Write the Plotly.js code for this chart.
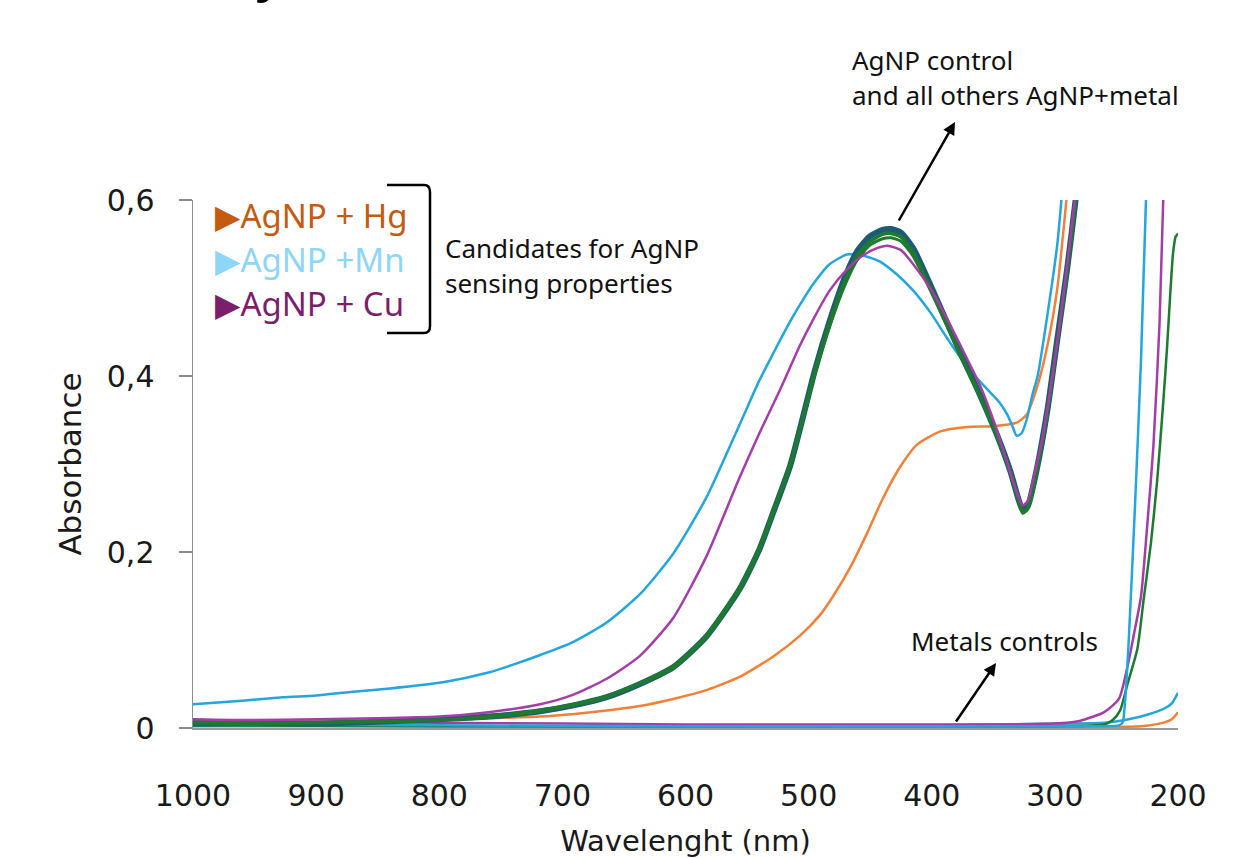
<!DOCTYPE html>
<html>
<head>
<meta charset="utf-8">
<script src="https://cdn.plot.ly/plotly-3.0.1.min.js"></script>
<style>html,body{margin:0;padding:0;background:#fff;}#chart{width:1247px;height:858px;}</style>
</head>
<body>
<div id="chart"></div>
<script>
// ---- Data ----
// AgNP control and the other AgNP+metal samples (thick green bundle)
const wlBundle = [1000, 950, 900, 850, 800, 760, 718, 690, 664, 637, 610, 583, 556, 540, 529, 515, 507, 495, 483, 470, 460, 450, 440, 433, 425, 415, 401, 388, 375, 361, 347, 336, 330, 326, 322, 315, 306, 298, 290, 283, 278];
const absAgnpControl = [0.005, 0.006, 0.005, 0.007, 0.010, 0.013, 0.019, 0.026, 0.035, 0.050, 0.069, 0.104, 0.158, 0.203, 0.244, 0.298, 0.340, 0.406, 0.462, 0.514, 0.543, 0.559, 0.566, 0.567, 0.563, 0.545, 0.503, 0.462, 0.421, 0.379, 0.333, 0.291, 0.262, 0.247, 0.252, 0.292, 0.362, 0.442, 0.522, 0.602, 0.662];
const absAgnpOther1 = [0.006, 0.005, 0.006, 0.007, 0.009, 0.013, 0.020, 0.027, 0.036, 0.051, 0.070, 0.105, 0.160, 0.205, 0.245, 0.300, 0.340, 0.405, 0.460, 0.510, 0.538, 0.553, 0.561, 0.562, 0.558, 0.540, 0.500, 0.460, 0.420, 0.378, 0.332, 0.290, 0.262, 0.245, 0.250, 0.290, 0.360, 0.440, 0.520, 0.600, 0.660];
const absAgnpOther2 = [0.007, 0.006, 0.006, 0.008, 0.009, 0.012, 0.019, 0.026, 0.035, 0.050, 0.068, 0.103, 0.157, 0.202, 0.243, 0.297, 0.338, 0.402, 0.456, 0.505, 0.533, 0.549, 0.556, 0.557, 0.553, 0.536, 0.497, 0.458, 0.418, 0.377, 0.331, 0.289, 0.261, 0.244, 0.249, 0.289, 0.358, 0.438, 0.518, 0.598, 0.658];

// AgNP + Mn (blue)
const wlMn = [1000, 960, 927, 900, 872, 840, 797, 760, 740, 718, 691, 664, 637, 610, 583, 556, 540, 529, 515, 507, 496, 483, 469, 456, 442, 428, 415, 401, 388, 371, 355, 345, 339, 335, 331, 327, 323, 318, 314, 306, 298, 294, 290];
const absMn = [0.027, 0.031, 0.035, 0.037, 0.041, 0.045, 0.052, 0.063, 0.072, 0.083, 0.098, 0.120, 0.152, 0.198, 0.262, 0.345, 0.395, 0.425, 0.462, 0.481, 0.505, 0.527, 0.538, 0.537, 0.530, 0.515, 0.497, 0.472, 0.444, 0.410, 0.385, 0.370, 0.357, 0.345, 0.332, 0.335, 0.350, 0.380, 0.400, 0.470, 0.550, 0.610, 0.660];

// AgNP + Cu (purple)
const wlCu = [1000, 950, 900, 850, 800, 760, 718, 691, 664, 637, 610, 583, 556, 540, 523, 507, 496, 483, 469, 456, 445, 436, 425, 415, 400, 388, 375, 361, 350, 339, 330, 326, 322, 318, 310, 302, 295, 288, 283, 279];
const absCu = [0.010, 0.009, 0.010, 0.011, 0.013, 0.018, 0.027, 0.038, 0.056, 0.082, 0.125, 0.195, 0.285, 0.335, 0.385, 0.435, 0.465, 0.497, 0.521, 0.537, 0.545, 0.548, 0.543, 0.527, 0.497, 0.466, 0.430, 0.390, 0.350, 0.303, 0.264, 0.253, 0.258, 0.280, 0.330, 0.400, 0.470, 0.550, 0.610, 0.660];

// AgNP + Hg (orange)
const wlHg = [1000, 950, 900, 850, 800, 760, 718, 690, 664, 637, 610, 583, 556, 529, 507, 491, 480, 466, 453, 440, 426, 412, 393, 371, 350, 331, 323, 315, 306, 298, 292, 288];
const absHg = [0.006, 0.006, 0.007, 0.008, 0.009, 0.011, 0.013, 0.016, 0.020, 0.025, 0.033, 0.043, 0.058, 0.081, 0.105, 0.128, 0.150, 0.183, 0.220, 0.260, 0.296, 0.322, 0.337, 0.342, 0.343, 0.347, 0.356, 0.385, 0.435, 0.500, 0.580, 0.640];

// Metals controls (near zero, rising in the UV)
const wlCtrlBlueA = [1000, 800, 600, 400, 300, 260, 248, 245, 243, 240, 235, 230, 226, 223];
const absCtrlBlueA = [0.004, 0.003, 0.002, 0.002, 0.002, 0.002, 0.003, 0.006, 0.030, 0.100, 0.250, 0.420, 0.600, 0.680];
const wlCtrlPurple = [1000, 900, 800, 700, 600, 500, 400, 300, 280, 260, 248, 241, 236, 230, 225, 220, 215, 212, 209];
const absCtrlPurple = [0.008, 0.007, 0.006, 0.005, 0.004, 0.004, 0.004, 0.005, 0.008, 0.018, 0.033, 0.070, 0.105, 0.150, 0.230, 0.320, 0.460, 0.600, 0.680];
const wlCtrlGreen = [1000, 800, 600, 400, 300, 260, 253, 247, 241, 233, 228, 222, 217, 212, 209, 206, 204, 202, 200];
const absCtrlGreen = [0.003, 0.002, 0.002, 0.002, 0.002, 0.004, 0.009, 0.020, 0.050, 0.090, 0.145, 0.210, 0.280, 0.370, 0.430, 0.500, 0.540, 0.558, 0.562];
const wlCtrlBlueB = [1000, 800, 600, 400, 300, 260, 240, 225, 210, 205, 200];
const absCtrlBlueB = [0.002, 0.002, 0.002, 0.003, 0.005, 0.006, 0.010, 0.015, 0.023, 0.028, 0.040];
const wlCtrlOrange = [1000, 800, 600, 400, 300, 230, 215, 205, 200];
const absCtrlOrange = [0.003, 0.002, 0.001, 0.001, 0.001, 0.002, 0.005, 0.010, 0.018];

// Axis ticks
const yTickVals = [0, 0.2, 0.4, 0.6];
const yTickText = ["0", "0,2", "0,4", "0,6"];
const xTickVals = [1000, 900, 800, 700, 600, 500, 400, 300, 200];
const xTickText = ["1000", "900", "800", "700", "600", "500", "400", "300", "200"];

// Legend labels
const legendLabels = ["AgNP + Hg", "AgNP +Mn", "AgNP + Cu"];
const legendColors = ["#C55A11", "#8ED6F7", "#7B1F6C"];

// ---- Styles ----
const C_BLUE = "#22A6DD", C_ORANGE = "#F28037", C_PURPLE = "#A53DA8", C_GREEN = "#1E7A30", C_TEAL = "#1D5B74";

function line(x, y, color, width, name) {
  return {x: x, y: y, type: "scatter", mode: "lines", name: name,
    line: {color: color, width: width, shape: "spline", smoothing: 0.6}, hoverinfo: "skip"};
}

const traces = [
  line(wlCtrlOrange, absCtrlOrange, C_ORANGE, 2.5, "Hg control"),
  line(wlCtrlBlueB, absCtrlBlueB, C_BLUE, 2.5, "Mn control"),
  line(wlCtrlGreen, absCtrlGreen, C_GREEN, 2.5, "control 3"),
  line(wlCtrlPurple, absCtrlPurple, C_PURPLE, 2.5, "Cu control"),
  line(wlCtrlBlueA, absCtrlBlueA, C_BLUE, 2.5, "control 5"),
  line(wlHg, absHg, C_ORANGE, 2.5, "AgNP + Hg"),
  line(wlMn, absMn, C_BLUE, 2.5, "AgNP + Mn"),
  line(wlBundle, absAgnpControl, C_TEAL, 6, "AgNP control"),
  line(wlBundle, absAgnpOther1, C_GREEN, 3.5, "AgNP + metal"),
  line(wlBundle, absAgnpOther2, C_GREEN, 3, "AgNP + metal 2"),
  line(wlCu, absCu, C_PURPLE, 2.5, "AgNP + Cu")
];

// plot area: x 193..1178 px, y 200..728 px
const PL = 193, PR = 1178, PT = 200, PB = 728;
const px = v => (v - PL) / (PR - PL);
const py = v => (PB - v) / (PB - PT);

const annFont = {family: "Noto Sans, sans-serif", size: 26, color: "#111"};
const annotations = [];
legendLabels.forEach((t, i) => {
  annotations.push({xref: "paper", yref: "paper", x: px(213), y: py(215 + 44 * i), xanchor: "left", yanchor: "middle",
    text: "\u25B6" + t, showarrow: false, font: {family: "Noto Sans, DejaVu Sans, sans-serif", size: 33, color: legendColors[i]}});
});
annotations.push(
  {xref: "paper", yref: "paper", x: px(443), y: py(248), xanchor: "left", yanchor: "middle", text: "Candidates for AgNP", showarrow: false, font: annFont},
  {xref: "paper", yref: "paper", x: px(443), y: py(283), xanchor: "left", yanchor: "middle", text: "sensing properties", showarrow: false, font: annFont},
  {xref: "paper", yref: "paper", x: px(850), y: py(60), xanchor: "left", yanchor: "middle", text: "AgNP control", showarrow: false, font: annFont},
  {xref: "paper", yref: "paper", x: px(850), y: py(95), xanchor: "left", yanchor: "middle", text: "and all others AgNP+metal", showarrow: false, font: annFont},
  {xref: "paper", yref: "paper", x: px(909), y: py(641), xanchor: "left", yanchor: "middle", text: "Metals controls", showarrow: false, font: annFont},
  {xref: "paper", yref: "paper", x: px(955), y: py(122), ax: -57, ay: 100, text: "", showarrow: true, arrowhead: 2, arrowsize: 1, arrowwidth: 2.5, arrowcolor: "#000"},
  {xref: "paper", yref: "paper", x: px(996), y: py(663), ax: -41, ay: 60, text: "", showarrow: true, arrowhead: 2, arrowsize: 1, arrowwidth: 2.5, arrowcolor: "#000"},
  {xref: "paper", yref: "paper", x: px(272), y: py(6), xanchor: "center", yanchor: "bottom", text: "<b><i>y</i></b>", showarrow: false,
   font: {family: "Liberation Sans, sans-serif", size: 50, color: "#000"}}
);

const shapes = [{
  type: "path", xref: "paper", yref: "paper",
  path: `M ${px(387)} ${py(185)} L ${px(424)} ${py(185)} Q ${px(430)} ${py(185)} ${px(430)} ${py(192)} L ${px(430)} ${py(326)} Q ${px(430)} ${py(333)} ${px(424)} ${py(333)} L ${px(387)} ${py(333)}`,
  line: {color: "#000", width: 2.5}
}];

const layout = {
  width: 1247, height: 858,
  margin: {l: PL, r: 1247 - PR, t: PT, b: 858 - PB, pad: 0},
  paper_bgcolor: "#fff", plot_bgcolor: "#fff",
  showlegend: false,
  xaxis: {
    range: [1000, 200], tickvals: xTickVals, ticktext: xTickText,
    showgrid: false, zeroline: false, showline: true, linecolor: "#999", linewidth: 2,
    ticks: "", ticklabelstandoff: 40,
    tickfont: {family: "DejaVu Sans, sans-serif", size: 30, color: "#1a1a1a"},
    title: {text: "Wavelenght (nm)", standoff: 34, font: {family: "DejaVu Sans, sans-serif", size: 29, color: "#1a1a1a"}},
    automargin: false, fixedrange: true
  },
  yaxis: {
    range: [0, 0.6], tickvals: yTickVals, ticktext: yTickText,
    showgrid: false, zeroline: false, showline: true, linecolor: "#8c8c8c", linewidth: 1.5,
    ticks: "outside", ticklen: 13, tickwidth: 1.5, tickcolor: "#8c8c8c", ticklabelstandoff: 18,
    tickfont: {family: "DejaVu Sans, sans-serif", size: 30, color: "#1a1a1a"},
    title: {text: "Absorbance", standoff: 16, font: {family: "DejaVu Sans, sans-serif", size: 31, color: "#1a1a1a"}},
    automargin: false, fixedrange: true
  },
  annotations: annotations,
  shapes: shapes
};

Plotly.newPlot("chart", traces, layout, {displayModeBar: false, staticPlot: true});
</script>
</body>
</html>
